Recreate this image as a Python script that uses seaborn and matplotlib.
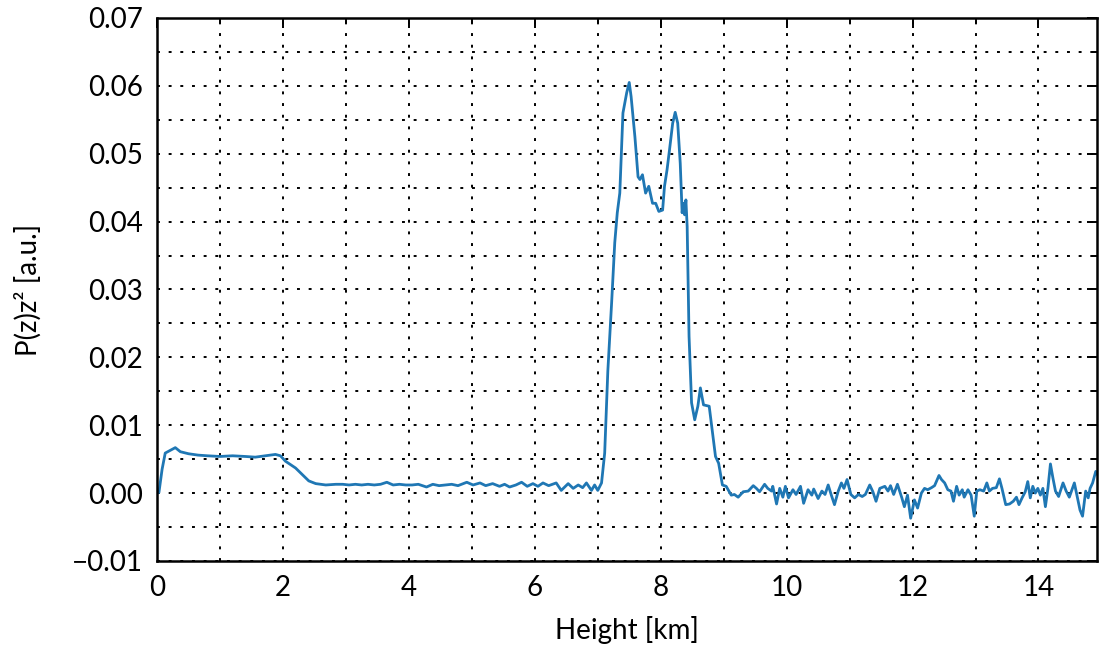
import matplotlib
matplotlib.use("Agg")
import matplotlib.pyplot as plt
from matplotlib.ticker import MultipleLocator, FuncFormatter
import seaborn as sns

# Range-corrected lidar return P(z)z^2 versus height
height_km = [
    0.00, 0.03, 0.08, 0.13, 0.21, 0.29, 0.37, 0.50, 0.65, 0.80, 1.00, 1.20, 1.40, 1.56,
    1.72, 1.88, 1.96, 2.04, 2.12, 2.20, 2.31, 2.41, 2.52, 2.68, 2.84,
    2.95, 3.05, 3.15, 3.25, 3.35, 3.45, 3.55, 3.65, 3.75, 3.85, 3.95, 4.05, 4.15, 4.28,
    4.38, 4.48, 4.58, 4.68, 4.78, 4.92, 5.02, 5.13, 5.22, 5.33, 5.44, 5.52, 5.60, 5.70,
    5.79, 5.88, 5.97, 6.05, 6.13, 6.22, 6.34, 6.42, 6.53, 6.61, 6.69, 6.76, 6.82, 6.90,
    6.95, 7.00,
    7.06, 7.11, 7.16, 7.22, 7.27, 7.31, 7.35, 7.40, 7.46, 7.50, 7.53, 7.59, 7.64, 7.67,
    7.71, 7.76, 7.81, 7.87, 7.92, 7.97, 8.03, 8.06, 8.10, 8.14, 8.19, 8.23, 8.27, 8.31,
    8.34, 8.36, 8.38, 8.40, 8.42, 8.45, 8.49, 8.54, 8.59, 8.63, 8.68, 8.77, 8.83, 8.87,
    8.92, 8.98,
    9.04, 9.12, 9.17, 9.23, 9.31, 9.39, 9.47, 9.52, 9.57, 9.65, 9.70, 9.76, 9.78, 9.84,
    9.89, 9.94, 9.98, 10.03, 10.10, 10.15, 10.22, 10.27, 10.34, 10.40, 10.43, 10.50,
    10.56, 10.61, 10.66, 10.71, 10.76, 10.82, 10.87, 10.91, 10.96, 11.02, 11.08, 11.14,
    11.20, 11.25, 11.32, 11.37, 11.42, 11.48, 11.56, 11.61, 11.65, 11.70, 11.76, 11.83,
    11.87, 11.92, 11.97, 12.03, 12.08, 12.14, 12.19, 12.24, 12.30, 12.35, 12.42, 12.46,
    12.51, 12.56, 12.61, 12.65, 12.70, 12.74, 12.79, 12.82, 12.88, 12.93, 12.98, 13.02,
    13.07, 13.13, 13.18, 13.22, 13.27, 13.33, 13.38, 13.42, 13.48, 13.54, 13.60, 13.65,
    13.69, 13.74, 13.79, 13.83, 13.87, 13.91, 13.95, 13.99, 14.03, 14.07, 14.11, 14.15,
    14.19, 14.23, 14.27, 14.32, 14.39, 14.44, 14.49, 14.54, 14.57, 14.61, 14.66, 14.70,
    14.75, 14.79, 14.82, 14.86, 14.91, 14.94,
]

signal = [
    0.0000, 0.0001, 0.0035, 0.0059, 0.0063, 0.0067, 0.0061, 0.0058, 0.0056, 0.0055, 0.0054,
    0.0055, 0.0054, 0.0053, 0.0055, 0.0057, 0.0055, 0.0047, 0.0042, 0.0037, 0.0027, 0.0018,
    0.0014, 0.0012, 0.0013,
    0.0013, 0.0012, 0.0013, 0.0012, 0.0013, 0.0012, 0.0013, 0.0016, 0.0012, 0.0013, 0.0012,
    0.0012, 0.0013, 0.0009, 0.0013, 0.0011, 0.0012, 0.0013, 0.0011, 0.0016, 0.0012, 0.0015,
    0.0011, 0.0014, 0.0010, 0.0013, 0.0009, 0.0012, 0.0016, 0.0010, 0.0014, 0.0010, 0.0015,
    0.0011, 0.0015, 0.0004, 0.0014, 0.0007, 0.0012, 0.0008, 0.0015, 0.0004, 0.0012, 0.0004,
    0.0015, 0.0059, 0.0180, 0.0280, 0.0369, 0.0413, 0.0442, 0.0560, 0.0590, 0.0605, 0.0584,
    0.0525, 0.0466, 0.0462, 0.0469, 0.0442, 0.0452, 0.0427, 0.0427, 0.0415, 0.0417, 0.0452,
    0.0476, 0.0506, 0.0545, 0.0561, 0.0545, 0.0486, 0.0413, 0.0427, 0.0410, 0.0432, 0.0393,
    0.0231, 0.0133, 0.0108, 0.0128, 0.0155, 0.0130, 0.0128, 0.0083, 0.0054, 0.0044, 0.0012,
    0.0010, -0.0003, -0.0002, -0.0006, 0.0002, 0.0003, 0.0011, 0.0007, 0.0002, 0.0013,
    0.0007, 0.0003, 0.0010, -0.0016, 0.0007, -0.0006, 0.0010, -0.0007, 0.0005, -0.0002,
    0.0010, -0.0015, 0.0005, -0.0003, 0.0006, -0.0008, 0.0003, -0.0002, 0.0012, -0.0003,
    -0.0017, 0.0003, 0.0015, 0.0007, 0.0020, -0.0002, -0.0007, -0.0002, -0.0005, -0.0002,
    0.0012, 0.0002, -0.0012, 0.0007, 0.0010, 0.0003, 0.0011, -0.0002, 0.0013, -0.0007,
    -0.0020, -0.0003, -0.0037, -0.0010, -0.0022, 0.0000, 0.0007, 0.0005, 0.0008, 0.0011,
    0.0026, 0.0020, 0.0015, 0.0005, 0.0003, -0.0012, 0.0010, -0.0003, 0.0005, -0.0006,
    0.0005, -0.0003, -0.0034, 0.0003, 0.0005, 0.0003, 0.0015, 0.0003, 0.0007, 0.0008,
    0.0021, 0.0007, -0.0017, -0.0016, -0.0012, -0.0006, -0.0017, -0.0007, 0.0002, 0.0017,
    -0.0007, 0.0010, 0.0000, 0.0007, -0.0003, 0.0007, -0.0020, 0.0007, 0.0043, 0.0022,
    0.0003, -0.0005, 0.0015, 0.0003, -0.0006, 0.0007, 0.0015, -0.0003, -0.0025, -0.0034,
    0.0003, -0.0007, 0.0007, 0.0015, 0.0032, 0.0027,
]

x_ticks = [0, 2, 4, 6, 8, 10, 12, 14]
y_ticks = [-0.01, 0.00, 0.01, 0.02, 0.03, 0.04, 0.05, 0.06, 0.07]

sns.set_style("white")
plt.rcParams["font.family"] = ["Lato", "DejaVu Sans"]
plt.rcParams["axes.linewidth"] = 1.8
plt.rcParams["text.color"] = "k"
plt.rcParams["axes.labelcolor"] = "k"
plt.rcParams["xtick.color"] = "k"
plt.rcParams["ytick.color"] = "k"

fig = plt.figure(figsize=(10.99, 6.49), dpi=100)
ax = fig.add_axes([0.1429, 0.1356, 0.8553, 0.8367])

sns.lineplot(x=height_km, y=signal, ax=ax, color="#1f77b4", linewidth=2.0,
             estimator=None, sort=False)

ax.set_xlim(0, 14.93)
ax.set_ylim(-0.01, 0.07)
ax.set_xticks(x_ticks)
ax.set_yticks(y_ticks)
ax.xaxis.set_minor_locator(MultipleLocator(1))
ax.yaxis.set_minor_locator(MultipleLocator(0.005))
ax.yaxis.set_major_formatter(
    FuncFormatter(lambda v, _: f"{round(v, 4):.2f}".replace("-", "\u2212")))

ax.grid(True, which="both", color="k", linestyle=(0, (1.5, 4.5)), linewidth=1.4)
ax.tick_params(which="both", direction="in", top=True, right=True,
               width=1.4, labelsize=20, colors="k", labelcolor="k")
ax.tick_params(which="major", length=7, pad=10)
ax.tick_params(which="minor", length=3.5)
for s in ax.spines.values():
    s.set_color("k")
    s.set_linewidth(1.8)

ax.set_xlabel("Height [km]", fontsize=20, labelpad=11, color="k")
ax.set_ylabel("P(z)z\u00b2 [a.u.]", fontsize=20, labelpad=22, color="k")

fig.savefig("out.png", dpi=100)
